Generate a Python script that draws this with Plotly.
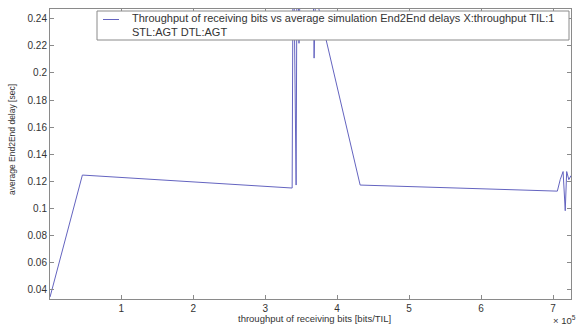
import plotly.graph_objects as go

# throughput of receiving bits (units of 1e5 bits/TIL)
throughput = [0.01, 0.46, 3.375, 3.39, 3.43, 3.445, 3.47, 3.50, 3.66, 3.68, 3.70,
              4.32, 7.06, 7.10, 7.14, 7.17, 7.19, 7.22, 7.25]
# average End2End delay [sec]
delay = [0.034, 0.1244, 0.1148, 0.32, 0.117, 0.32, 0.222, 0.30, 0.30, 0.211, 0.258,
         0.117, 0.1125, 0.121, 0.127, 0.098, 0.127, 0.121, 0.124]

x_ticks = [1, 2, 3, 4, 5, 6, 7]
y_ticks = [0.04, 0.06, 0.08, 0.10, 0.12, 0.14, 0.16, 0.18, 0.20, 0.22, 0.24]
y_labels = ["0.04", "0.06", "0.08", "0.1", "0.12", "0.14", "0.16", "0.18", "0.2", "0.22", "0.24"]

legend_line1 = "Throughput of receiving bits vs average simulation End2End delays X:throughput TIL:1"
legend_line2 = "STL:AGT DTL:AGT"
x_title = "throughput of receiving bits [bits/TIL]"
y_title = "average End2End delay [sec]"

LINE_COLOR = "#6464c0"
AX_COLOR = "#8a8a8a"
TXT = "#333333"
FONT = "Liberation Sans, Arial, Helvetica"

fig = go.Figure()
fig.add_trace(go.Scatter(
    x=throughput, y=delay, mode="lines", name=legend_line1,
    line=dict(color=LINE_COLOR, width=1), showlegend=False,
))

axis_common = dict(
    showline=True, linecolor=AX_COLOR, linewidth=1, mirror="ticks",
    ticks="inside", ticklen=4, tickcolor=AX_COLOR, showgrid=False, zeroline=False,
    tickfont=dict(family=FONT, size=10, color=TXT),
)

# plot area in pixels: left 50, right 571, top 9, bottom 299
L, R, T, B = 50, 571, 9, 299
def px(xp):
    return (xp - L) / (R - L)
def py(yp):
    return (B - yp) / (B - T)

fig.update_layout(
    width=576, height=328,
    margin=dict(l=L, r=576 - R, t=T, b=328 - B),
    paper_bgcolor="white", plot_bgcolor="white",
    font=dict(family=FONT, size=10, color=TXT),
    xaxis=dict(range=[0.01, 7.25], tickvals=x_ticks, ticktext=[str(t) for t in x_ticks],
               **axis_common),
    yaxis=dict(range=[0.0326, 0.2474], tickvals=y_ticks, ticktext=y_labels,
               **axis_common),
    showlegend=False,
)

# legend box (drawn manually to match the MATLAB legend)
fig.add_shape(type="rect", xref="paper", yref="paper",
              x0=px(97), x1=px(569), y0=py(40), y1=py(11),
              fillcolor="white", line=dict(color=AX_COLOR, width=1), layer="above")
fig.add_shape(type="line", xref="paper", yref="paper",
              x0=px(103), x1=px(119), y0=py(19.5), y1=py(19.5),
              line=dict(color=LINE_COLOR, width=1), layer="above")
fig.add_annotation(text=legend_line1 + "<br>" + legend_line2, xref="paper", yref="paper",
                   x=px(130), y=py(25.5), xanchor="left", yanchor="middle", align="left",
                   showarrow=False, font=dict(size=11, color=TXT))

# axis titles
fig.add_annotation(text=x_title, xref="paper", yref="paper",
                   x=px(314), y=py(318), xanchor="center", yanchor="middle",
                   showarrow=False, font=dict(size=9.5, color=TXT))
fig.add_annotation(text=y_title, xref="paper", yref="paper",
                   x=px(12), y=py(140), xanchor="center", yanchor="middle",
                   textangle=-90, showarrow=False, font=dict(size=8.5, color=TXT))
fig.add_annotation(text="× 10<sup>5</sup>", xref="paper", yref="paper",
                   x=px(551), y=py(320), xanchor="left", yanchor="middle",
                   showarrow=False, font=dict(size=9.5, color=TXT))

fig.write_html("out.html", config={"displayModeBar": False},
               post_script="document.body.style.margin='0';")
